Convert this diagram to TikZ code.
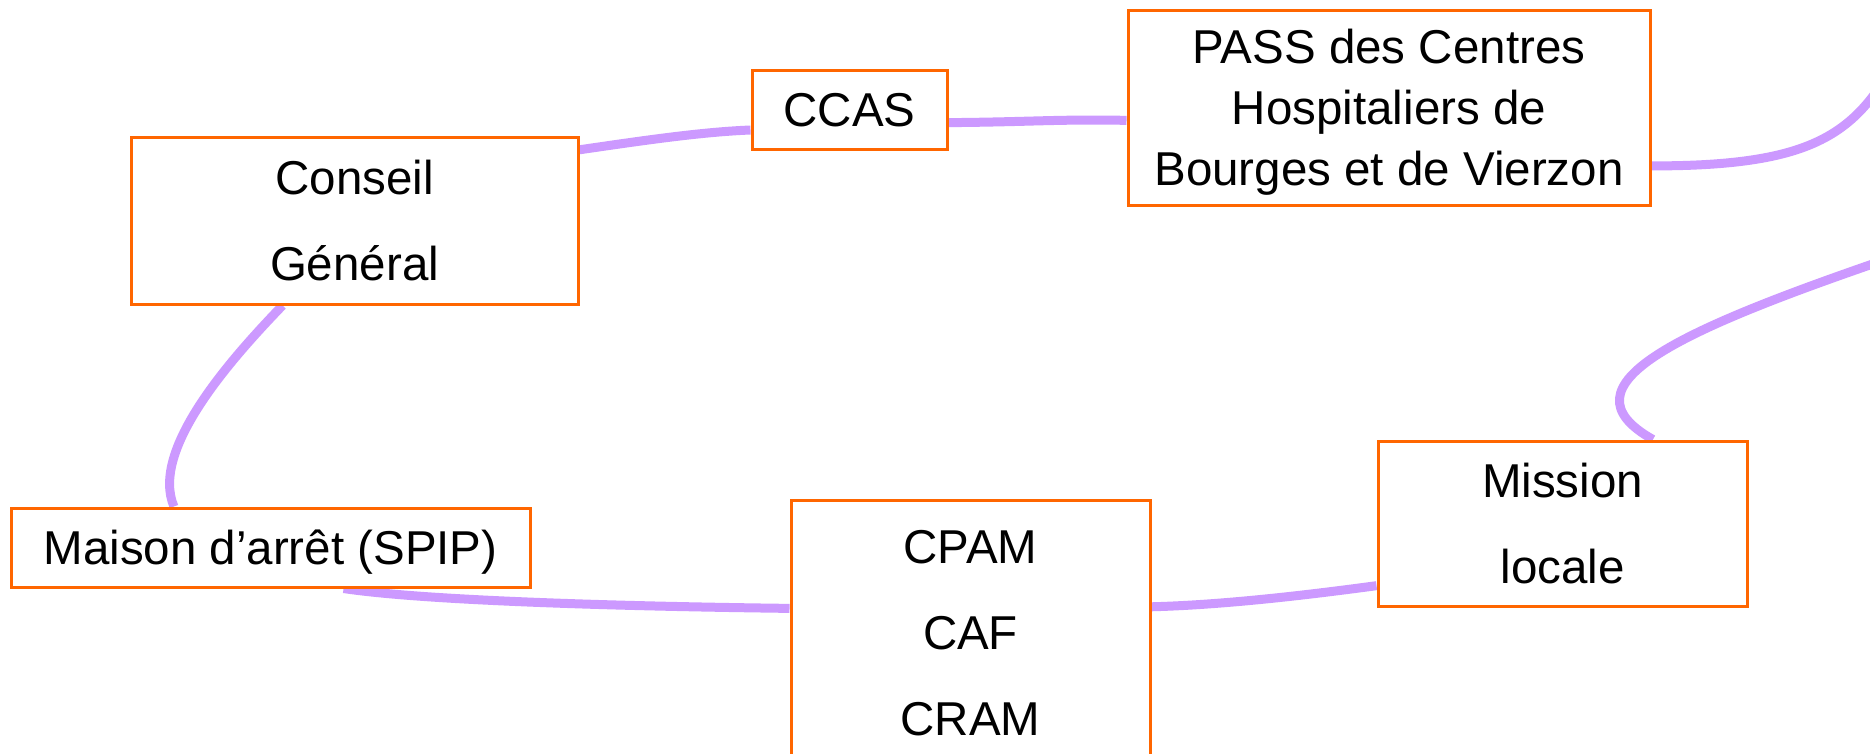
\documentclass[tikz,border=0pt]{standalone}
\usepackage{fontspec}
\setmainfont{Liberation Sans}
\usetikzlibrary{calc,backgrounds}
\definecolor{boxorange}{HTML}{FF6600}
\definecolor{linkpurple}{HTML}{CC99FF}
\begin{document}
\begin{tikzpicture}[x=1pt,y=-1pt,
  orgbox/.style={draw=boxorange, line width=3pt, fill=white, inner sep=0pt, align=center, text depth=0pt},
  twoline/.style={font=\fontsize{47.5}{86}\selectfont},
  oneline/.style={font=\fontsize{47.5}{61}\selectfont},
  link/.style={draw=linkpurple, line width=9pt}]
\useasboundingbox (0,0) rectangle (1870,753);
\node[orgbox, twoline, minimum width=447pt, minimum height=167pt] (conseil) at (354.5,220.5) {Conseil\\Général};
\node[orgbox, oneline, minimum width=195pt, minimum height=79pt] (ccas) at (849.5,109.5) {CCAS};
\node[orgbox, oneline, minimum width=522pt, minimum height=195pt] (pass) at (1389,107.5) {PASS des Centres\\Hospitaliers de\\Bourges et de Vierzon};
\node[orgbox, oneline, minimum width=519pt, minimum height=79pt] (maison) at (270.5,547.5) {Maison d’arrêt (SPIP)};
\node[orgbox, twoline, minimum width=359pt, minimum height=265pt] (cpam) at (970.5,632.5) {CPAM\\CAF\\CRAM};
\node[orgbox, twoline, minimum width=369pt, minimum height=165pt] (mission) at (1562.5,523.5) {Mission\\locale};
\coordinate (offA) at (1890,70);
\coordinate (offB) at (1890,258);
\begin{scope}[on background layer]
\fill[white] (0,0) rectangle (1870,753);
\clip (0,0) rectangle (1870,753);
\path[link] ($(conseil.north east)!0.084!(conseil.south east)$) .. controls (640,141) and (700,132) .. ($(ccas.north west)!0.75!(ccas.south west)$);
\path[link] ($(ccas.north east)!0.66!(ccas.south east)$) .. controls (1030,122) and (1060,119) .. ($(pass.north west)!0.565!(pass.south west)$);
\path[link] ($(pass.north east)!0.795!(pass.south east)$) .. controls (1800,166) and (1850,140) .. (offA);
\path[link] (offB) .. controls (1680,330) and (1556,385) .. ($(mission.north west)!0.743!(mission.north east)$);
\path[link] ($(mission.north west)!0.87!(mission.south west)$) .. controls (1300,596) and (1220,605) .. ($(cpam.north east)!0.404!(cpam.south east)$);
\path[link] ($(cpam.north west)!0.41!(cpam.south west)$) .. controls (600,606) and (420,600) .. ($(maison.south west)!0.64!(maison.south east)$);
\path[link] ($(maison.north west)!0.315!(maison.north east)$) .. controls (150,450) and (230,360) .. ($(conseil.south west)!0.34!(conseil.south east)$);
\end{scope}
\end{tikzpicture}
\end{document}
